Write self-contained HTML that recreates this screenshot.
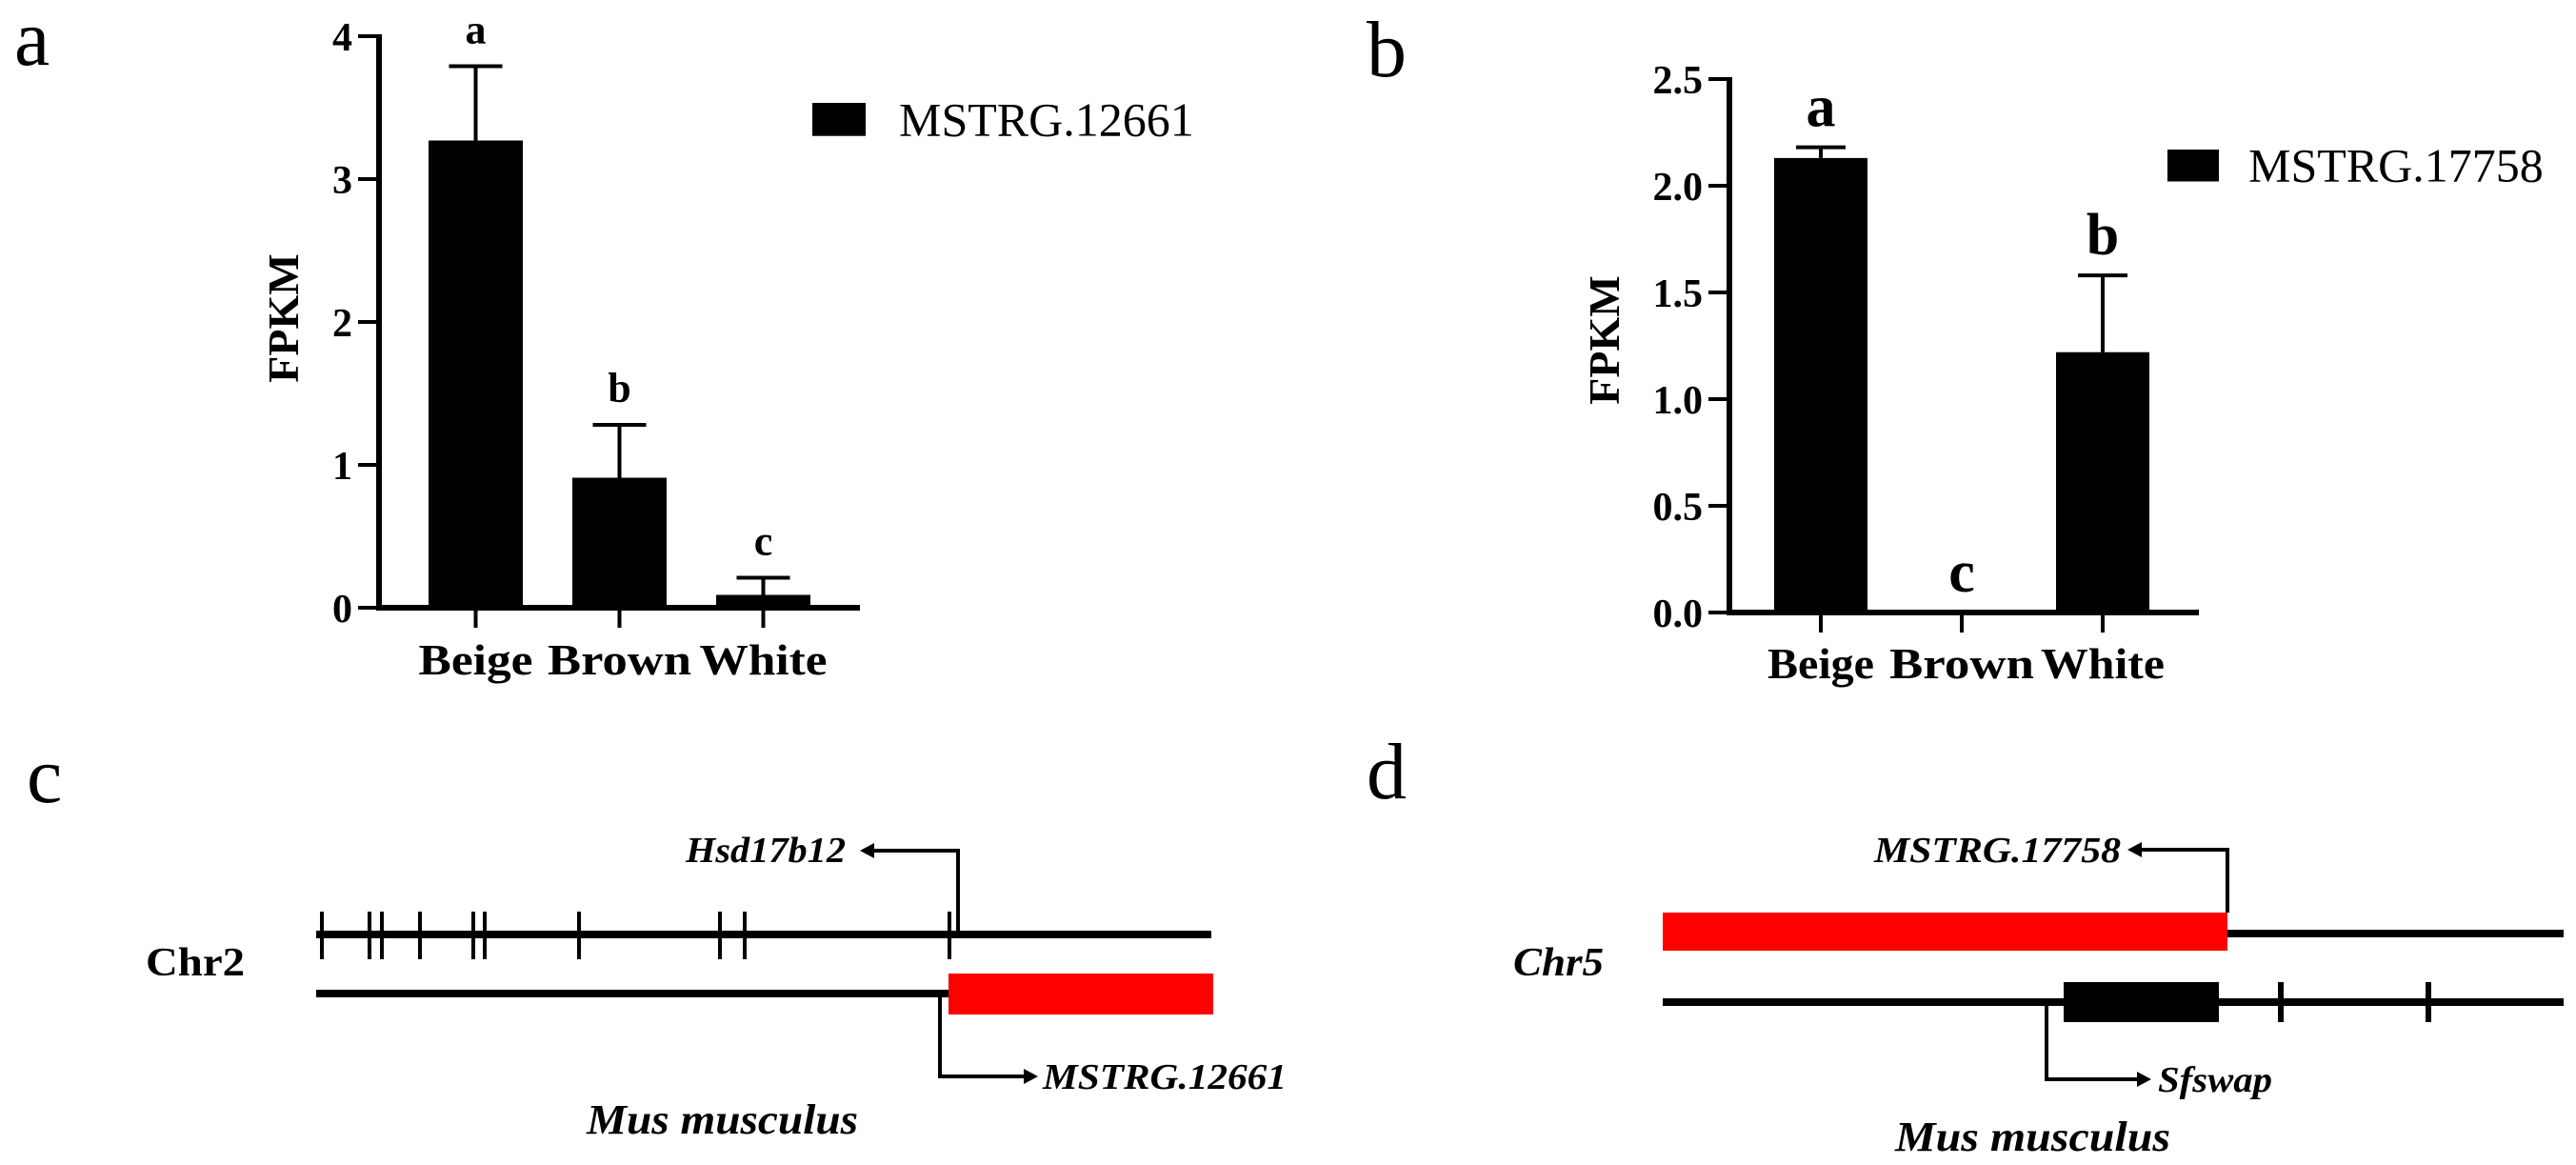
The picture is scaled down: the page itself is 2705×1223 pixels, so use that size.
<!DOCTYPE html>
<html><head><meta charset="utf-8"><style>
html,body{margin:0;padding:0;background:#fff;}
svg{display:block;font-family:"Liberation Serif",serif;}
</style></head><body>
<svg id="fig" width="2705" height="1223" viewBox="0 0 2705 1223" xmlns="http://www.w3.org/2000/svg">
<rect width="2705" height="1223" fill="#fff"/>
<!-- panel labels -->
<text x="15" y="68" font-size="84">a</text>
<text x="1435" y="80" font-size="84">b</text>
<text x="28" y="842" font-size="84">c</text>
<text x="1435" y="838" font-size="84">d</text>

<g id="chartA"></g>
<g id="chartB"></g>

<!-- panel c -->
<g>
  <line x1="332" y1="981" x2="1272" y2="981" stroke="#000" stroke-width="8"/>
  <g stroke="#000" stroke-width="4">
    <line x1="338" y1="957" x2="338" y2="1007"/><line x1="388" y1="957" x2="388" y2="1007"/>
    <line x1="401" y1="957" x2="401" y2="1007"/><line x1="441" y1="957" x2="441" y2="1007"/>
    <line x1="497" y1="957" x2="497" y2="1007"/><line x1="509" y1="957" x2="509" y2="1007"/>
    <line x1="608" y1="957" x2="608" y2="1007"/><line x1="756" y1="957" x2="756" y2="1007"/>
    <line x1="782" y1="957" x2="782" y2="1007"/><line x1="997" y1="957" x2="997" y2="1007"/>
  </g>
  <polyline points="1006,981 1006,893 915,893" fill="none" stroke="#000" stroke-width="4"/>
  <polygon points="903,893 918,885 918,901" fill="#000"/>
  <text x="720" y="905" font-size="38" font-style="italic" font-weight="bold" textLength="168" lengthAdjust="spacingAndGlyphs">Hsd17b12</text>
  <text x="153" y="1024" font-size="42" font-weight="bold" textLength="104" lengthAdjust="spacingAndGlyphs">Chr2</text>
  <line x1="332" y1="1043" x2="996" y2="1043" stroke="#000" stroke-width="8"/>
  <rect x="996" y="1022" width="278" height="43" fill="#ff0000"/>
  <polyline points="987,1043 987,1130 1078,1130" fill="none" stroke="#000" stroke-width="4"/>
  <polygon points="1090,1130 1075,1122 1075,1138" fill="#000"/>
  <text x="1095" y="1143" font-size="38" font-style="italic" font-weight="bold" textLength="256" lengthAdjust="spacingAndGlyphs">MSTRG.12661</text>
  <text x="616" y="1190" font-size="44" font-style="italic" font-weight="bold" textLength="285" lengthAdjust="spacingAndGlyphs">Mus musculus</text>
</g>

<!-- panel d -->
<g>
  <rect x="1746" y="958" width="593" height="40" fill="#ff0000"/>
  <line x1="2339" y1="980" x2="2692" y2="980" stroke="#000" stroke-width="8"/>
  <polyline points="2339,958 2339,892 2246,892" fill="none" stroke="#000" stroke-width="4"/>
  <polygon points="2234,892 2249,884 2249,900" fill="#000"/>
  <text x="1968" y="905" font-size="38" font-style="italic" font-weight="bold" textLength="259" lengthAdjust="spacingAndGlyphs">MSTRG.17758</text>
  <text x="1589" y="1024" font-size="42" font-style="italic" font-weight="bold" textLength="95" lengthAdjust="spacingAndGlyphs">Chr5</text>
  <line x1="1746" y1="1052" x2="2692" y2="1052" stroke="#000" stroke-width="8"/>
  <rect x="2167" y="1031" width="163" height="42" fill="#000"/>
  <rect x="2392" y="1031" width="6" height="42" fill="#000"/>
  <rect x="2547" y="1031" width="6" height="42" fill="#000"/>
  <polyline points="2149,1052 2149,1133 2247,1133" fill="none" stroke="#000" stroke-width="4"/>
  <polygon points="2259,1133 2244,1125 2244,1141" fill="#000"/>
  <text x="2266" y="1146" font-size="38" font-style="italic" font-weight="bold" textLength="120" lengthAdjust="spacingAndGlyphs">Sfswap</text>
  <text x="1990" y="1208" font-size="44" font-style="italic" font-weight="bold" textLength="289" lengthAdjust="spacingAndGlyphs">Mus musculus</text>
</g>
</svg>
<script>
const categories = ["Beige", "Brown", "White"];
const valuesA = [3.27, 0.91, 0.09];
const errorsA = [0.52, 0.37, 0.12];
const lettersA = ["a", "b", "c"];
const ticksA = [0, 1, 2, 3, 4];
const tickLabelsA = ["0", "1", "2", "3", "4"];
const valuesB = [2.13, 0.0, 1.22];
const errorsB = [0.05, 0.0, 0.36];
const lettersB = ["a", "c", "b"];
const ticksB = [0, 0.5, 1.0, 1.5, 2.0, 2.5];
const tickLabelsB = ["0.0", "0.5", "1.0", "1.5", "2.0", "2.5"];
const NS = "http://www.w3.org/2000/svg";
function mk(parent, tag, attrs, text) {
  const e = document.createElementNS(NS, tag);
  for (const k in attrs) e.setAttribute(k, attrs[k]);
  if (text !== undefined) e.textContent = text;
  parent.appendChild(e);
  return e;
}
function drawChart(g, cfg) {
  const y = v => cfg.y0 - (v - 0) / cfg.yMax * (cfg.y0 - cfg.yTop);
  const x = i => cfg.xStart + cfg.step * (i + 0.5);
  // bars
  cfg.values.forEach((v, i) => {
    const bw = cfg.barW;
    const r = mk(g, "rect", {x: x(i) - bw / 2, y: y(v), width: bw, height: cfg.y0 - y(v), fill: "#000"});
    
    
    if (cfg.errors[i] > 0) {
      const top = y(v + cfg.errors[i]);
      const e = mk(g, "path", {d: `M${x(i)},${y(v)}V${top}M${x(i) - cfg.capW},${top}H${x(i) + cfg.capW}`, stroke: "#000", "stroke-width": 4, fill: "none"});
      
      
    }
    const lt = mk(g, "text", {x: x(i), y: y(v + cfg.errors[i]) - cfg.letterGap, "text-anchor": "middle", "font-size": cfg.letterSize, "font-weight": "bold"}, cfg.letters[i]);
    
    
    const tk = mk(g, "line", {x1: x(i), x2: x(i), y1: cfg.y0, y2: cfg.y0 + 21, stroke: "#000", "stroke-width": 4});
    
    
    const cl = mk(g, "text", {x: x(i), y: cfg.catY, "text-anchor": "middle", "font-size": 46, "font-weight": "bold", textLength: cfg.catW[i], lengthAdjust: "spacingAndGlyphs"}, categories[i]);
    
    
  });
  // axes
  const ya = mk(g, "line", {x1: cfg.ax, x2: cfg.ax, y1: cfg.yTop - 2, y2: cfg.y0 + 3, stroke: "#000", "stroke-width": 6});
  
  
  const xa = mk(g, "line", {x1: cfg.ax - 3, x2: cfg.xEnd, y1: cfg.y0, y2: cfg.y0, stroke: "#000", "stroke-width": 6});
  
  
  cfg.ticks.forEach((t, j) => {
    const tl = mk(g, "line", {x1: cfg.ax - 22, x2: cfg.ax, y1: y(t), y2: y(t), stroke: "#000", "stroke-width": 4});
    
    
    const tx = mk(g, "text", {x: cfg.ax - 28, y: y(t) + 15, "text-anchor": "end", "font-size": 42, "font-weight": "bold"}, cfg.tickLabels[j]);
    
    
  });
  const yt = mk(g, "text", {x: 0, y: 0, "text-anchor": "middle", "font-size": 46, "font-weight": "bold", transform: `translate(${cfg.titleX},${cfg.titleY}) rotate(-90)`}, "FPKM");
  
  
  const ls = mk(g, "rect", {x: cfg.legX, y: cfg.legY, width: cfg.legS, height: cfg.legS * 0.62, fill: "#000"});
  
  
  const lx = mk(g, "text", {x: cfg.legTX, y: cfg.legY + cfg.legS * 0.31 + 17, "font-size": 50}, cfg.legend);
  
  
}
drawChart(document.getElementById("chartA"), {
  values: valuesA, errors: errorsA, letters: lettersA, ticks: ticksA, tickLabels: tickLabelsA,
  yMax: 4, y0: 638, yTop: 38, ax: 398, xEnd: 903, xStart: 424, step: 151, barW: 99, capW: 28,
  letterGap: 24, letterSize: 44, catY: 708, catW: [120, 151, 134],
  titleX: 313, titleY: 334, legX: 853, legY: 108, legS: 56, legTX: 944, legend: "MSTRG.12661"
});
drawChart(document.getElementById("chartB"), {
  values: valuesB, errors: errorsB, letters: lettersB, ticks: ticksB, tickLabels: tickLabelsB,
  yMax: 2.5, y0: 643, yTop: 83, ax: 1816, xEnd: 2309, xStart: 1838, step: 148, barW: 98, capW: 26,
  letterGap: 22, letterSize: 62, catY: 712, catW: [112, 152, 130],
  titleX: 1700, titleY: 357, legX: 2276, legY: 157, legS: 54, legTX: 2361, legend: "MSTRG.17758"
});
</script>
</body></html>
